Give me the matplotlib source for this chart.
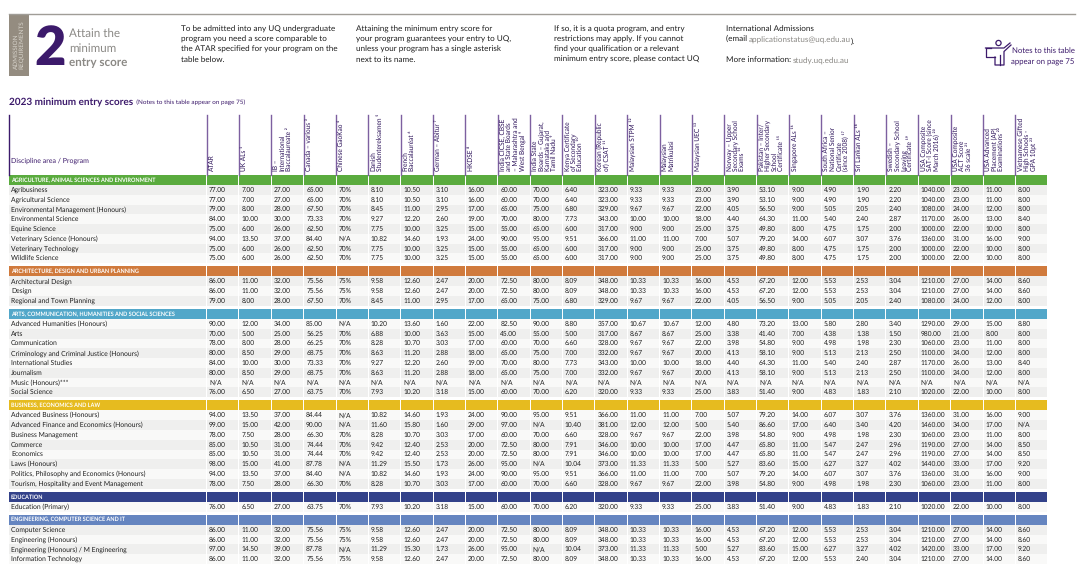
import matplotlib
matplotlib.use('Agg')
import matplotlib.pyplot as plt
from matplotlib.patches import Rectangle, Circle

plt.rcParams['font.family'] = ['Lato', 'DejaVu Sans']
plt.rcParams['text.hinting'] = 'no_hinting'

# Column headers
column_labels = [
    'ATAR', 'UK ALs ¹', 'IB –\nInternational\nBaccalaureate ²', 'Canada – various ³', 'Chinese GaoKao ⁴',
    'Danish\nStudentereksamen ⁵', 'French\nBaccalauréat ⁶', 'German – Abitur ⁷', 'HKDSE ⁸',
    'India CICSE, CBSE\nand State Boards\n– Maharashtra and\nWest Bengal ⁹',
    'India State\nBoards – Gujarat,\nKarnataka and\nTamil Nadu ⁹',
    'Kenya Certificate\nof Secondary\nEducation ¹⁰', 'Korean (Republic\nof) CSAT ¹¹', 'Malaysian STPM ¹²',
    'Malaysian\nMatrikulasi', 'Malaysian UEC ¹³', 'Norway – Upper\nSecondary School\nExams ¹⁴',
    'Pakistan – Inter/\nHigher Secondary\nSchool\nCertificate ¹⁵', 'Singapore ALs ¹⁶',
    'South Africa –\nNational Senior\nCertificate\n(since 2008) ¹⁷', 'Sri Lankan ALs ¹⁸',
    'Swedish –\nSecondary School\nLeaving\nCertificate ¹⁹', 'USA Composite\nSAT-I Score (since\nMarch 2016) ²⁰',
    'USA Composite\nACT Score\n36 scale ²¹', 'USA Advanced\nPlacement (AP)\nExaminations ²²',
    'Vietnamese Gifted\nHigh Schools -\nGPA 10pt ²³',
]

# Sections
section_names = [
    'AGRICULTURE, ANIMAL SCIENCES AND ENVIRONMENT',
    'ARCHITECTURE, DESIGN AND URBAN PLANNING',
    'ARTS, COMMUNICATION, HUMANITIES AND SOCIAL SCIENCES',
    'BUSINESS, ECONOMICS AND LAW',
    'EDUCATION',
    'ENGINEERING, COMPUTER SCIENCE AND IT',
]

programs_agriculture = ['Agribusiness', 'Agricultural Science', 'Environmental Management (Honours)',
                        'Environmental Science', 'Equine Science', 'Veterinary Science (Honours)',
                        'Veterinary Technology', 'Wildlife Science']
scores_agriculture = [
    '77.00 7.00 27.00 65.00 70% 8.10 10.50 3.10 16.00 60.00 70.00 6.40 323.00 9.33 9.33 23.00 3.90 53.10 9.00 4.90 1.90 2.20 1040.00 23.00 11.00 8.00',
    '77.00 7.00 27.00 65.00 70% 8.10 10.50 3.10 16.00 60.00 70.00 6.40 323.00 9.33 9.33 23.00 3.90 53.10 9.00 4.90 1.90 2.20 1040.00 23.00 11.00 8.00',
    '79.00 8.00 28.00 67.50 70% 8.45 11.00 2.95 17.00 65.00 75.00 6.80 329.00 9.67 9.67 22.00 4.05 56.50 9.00 5.05 2.05 2.40 1080.00 24.00 12.00 8.00',
    '84.00 10.00 30.00 73.33 70% 9.27 12.20 2.60 19.00 70.00 80.00 7.73 343.00 10.00 10.00 18.00 4.40 64.30 11.00 5.40 2.40 2.87 1170.00 26.00 13.00 8.40',
    '75.00 6.00 26.00 62.50 70% 7.75 10.00 3.25 15.00 55.00 65.00 6.00 317.00 9.00 9.00 25.00 3.75 49.80 8.00 4.75 1.75 2.00 1000.00 22.00 10.00 8.00',
    '94.00 13.50 37.00 84.40 N/A 10.82 14.60 1.93 24.00 90.00 95.00 9.51 366.00 11.00 11.00 7.00 5.07 79.20 14.00 6.07 3.07 3.76 1360.00 31.00 16.00 9.00',
    '75.00 6.00 26.00 62.50 70% 7.75 10.00 3.25 15.00 55.00 65.00 6.00 317.00 9.00 9.00 25.00 3.75 49.80 8.00 4.75 1.75 2.00 1000.00 22.00 10.00 8.00',
    '75.00 6.00 26.00 62.50 70% 7.75 10.00 3.25 15.00 55.00 65.00 6.00 317.00 9.00 9.00 25.00 3.75 49.80 8.00 4.75 1.75 2.00 1000.00 22.00 10.00 8.00',
]

programs_architecture = ['Architectural Design', 'Design', 'Regional and Town Planning']
scores_architecture = [
    '86.00 11.00 32.00 75.56 75% 9.58 12.60 2.47 20.00 72.50 80.00 8.09 348.00 10.33 10.33 16.00 4.53 67.20 12.00 5.53 2.53 3.04 1210.00 27.00 14.00 8.60',
    '86.00 11.00 32.00 75.56 75% 9.58 12.60 2.47 20.00 72.50 80.00 8.09 348.00 10.33 10.33 16.00 4.53 67.20 12.00 5.53 2.53 3.04 1210.00 27.00 14.00 8.60',
    '79.00 8.00 28.00 67.50 70% 8.45 11.00 2.95 17.00 65.00 75.00 6.80 329.00 9.67 9.67 22.00 4.05 56.50 9.00 5.05 2.05 2.40 1080.00 24.00 12.00 8.00',
]

programs_arts = ['Advanced Humanities (Honours)', 'Arts', 'Communication', 'Criminology and Criminal Justice (Honours)',
                 'International Studies', 'Journalism', 'Music (Honours)***', 'Social Science']
scores_arts = [
    '90.00 12.00 34.00 85.00 N/A 10.20 13.60 1.60 22.00 82.50 90.00 8.80 357.00 10.67 10.67 12.00 4.80 73.20 13.00 5.80 2.80 3.40 1290.00 29.00 15.00 8.80',
    '70.00 5.00 25.00 56.25 70% 6.88 10.00 3.63 15.00 45.00 55.00 5.00 317.00 8.67 8.67 25.00 3.38 41.40 7.00 4.38 1.38 1.50 980.00 21.00 8.00 8.00',
    '78.00 8.00 28.00 66.25 70% 8.28 10.70 3.03 17.00 60.00 70.00 6.60 328.00 9.67 9.67 22.00 3.98 54.80 9.00 4.98 1.98 2.30 1060.00 23.00 11.00 8.00',
    '80.00 8.50 29.00 68.75 70% 8.63 11.20 2.88 18.00 65.00 75.00 7.00 332.00 9.67 9.67 20.00 4.13 58.10 9.00 5.13 2.13 2.50 1100.00 24.00 12.00 8.00',
    '84.00 10.00 30.00 73.33 70% 9.27 12.20 2.60 19.00 70.00 80.00 7.73 343.00 10.00 10.00 18.00 4.40 64.30 11.00 5.40 2.40 2.87 1170.00 26.00 13.00 8.40',
    '80.00 8.50 29.00 68.75 70% 8.63 11.20 2.88 18.00 65.00 75.00 7.00 332.00 9.67 9.67 20.00 4.13 58.10 9.00 5.13 2.13 2.50 1100.00 24.00 12.00 8.00',
    'N/A N/A N/A N/A N/A N/A N/A N/A N/A N/A N/A N/A N/A N/A N/A N/A N/A N/A N/A N/A N/A N/A N/A N/A N/A N/A',
    '76.00 6.50 27.00 63.75 70% 7.93 10.20 3.18 15.00 60.00 70.00 6.20 320.00 9.33 9.33 25.00 3.83 51.40 9.00 4.83 1.83 2.10 1020.00 22.00 10.00 8.00',
]

programs_business = ['Advanced Business (Honours)', 'Advanced Finance and Economics (Honours)', 'Business Management',
                     'Commerce', 'Economics', 'Laws (Honours)', 'Politics, Philosophy and Economics (Honours)',
                     'Tourism, Hospitality and Event Management']
scores_business = [
    '94.00 13.50 37.00 84.44 N/A 10.82 14.60 1.93 24.00 90.00 95.00 9.51 366.00 11.00 11.00 7.00 5.07 79.20 14.00 6.07 3.07 3.76 1360.00 31.00 16.00 9.00',
    '99.00 15.00 42.00 90.00 N/A 11.60 15.80 1.60 29.00 97.00 N/A 10.40 381.00 12.00 12.00 5.00 5.40 86.60 17.00 6.40 3.40 4.20 1460.00 34.00 17.00 N/A',
    '78.00 7.50 28.00 66.30 70% 8.28 10.70 3.03 17.00 60.00 70.00 6.60 328.00 9.67 9.67 22.00 3.98 54.80 9.00 4.98 1.98 2.30 1060.00 23.00 11.00 8.00',
    '85.00 10.50 31.00 74.44 70% 9.42 12.40 2.53 20.00 72.50 80.00 7.91 346.00 10.00 10.00 17.00 4.47 65.80 11.00 5.47 2.47 2.96 1190.00 27.00 14.00 8.50',
    '85.00 10.50 31.00 74.44 70% 9.42 12.40 2.53 20.00 72.50 80.00 7.91 346.00 10.00 10.00 17.00 4.47 65.80 11.00 5.47 2.47 2.96 1190.00 27.00 14.00 8.50',
    '98.00 15.00 41.00 87.78 N/A 11.29 15.50 1.73 26.00 95.00 N/A 10.04 373.00 11.33 11.33 5.00 5.27 83.60 15.00 6.27 3.27 4.02 1440.00 33.00 17.00 9.20',
    '94.00 13.50 37.00 84.40 N/A 10.82 14.60 1.93 24.00 90.00 95.00 9.51 366.00 11.00 11.00 7.00 5.07 79.20 14.00 6.07 3.07 3.76 1360.00 31.00 16.00 9.00',
    '78.00 7.50 28.00 66.30 70% 8.28 10.70 3.03 17.00 60.00 70.00 6.60 328.00 9.67 9.67 22.00 3.98 54.80 9.00 4.98 1.98 2.30 1060.00 23.00 11.00 8.00',
]

programs_education = ['Education (Primary)']
scores_education = [
    '76.00 6.50 27.00 63.75 70% 7.93 10.20 3.18 15.00 60.00 70.00 6.20 320.00 9.33 9.33 25.00 3.83 51.40 9.00 4.83 1.83 2.10 1020.00 22.00 10.00 8.00',
]

programs_engineering = ['Computer Science', 'Engineering (Honours)', 'Engineering (Honours) / M Engineering',
                        'Information Technology']
scores_engineering = [
    '86.00 11.00 32.00 75.56 75% 9.58 12.60 2.47 20.00 72.50 80.00 8.09 348.00 10.33 10.33 16.00 4.53 67.20 12.00 5.53 2.53 3.04 1210.00 27.00 14.00 8.60',
    '86.00 11.00 32.00 75.56 75% 9.58 12.60 2.47 20.00 72.50 80.00 8.09 348.00 10.33 10.33 16.00 4.53 67.20 12.00 5.53 2.53 3.04 1210.00 27.00 14.00 8.60',
    '97.00 14.50 39.00 87.78 N/A 11.29 15.30 1.73 26.00 95.00 N/A 10.04 373.00 11.33 11.33 5.00 5.27 83.60 15.00 6.27 3.27 4.02 1420.00 33.00 17.00 9.20',
    '86.00 11.00 32.00 75.56 75% 9.58 12.60 2.47 20.00 72.50 80.00 8.09 348.00 10.33 10.33 16.00 4.53 67.20 12.00 5.53 2.40 3.04 1210.00 27.00 14.00 8.60',
]

section_programs = [programs_agriculture, programs_architecture, programs_arts,
                    programs_business, programs_education, programs_engineering]
section_scores = [scores_agriculture, scores_architecture, scores_arts,
                  scores_business, scores_education, scores_engineering]
section_colors = ['#5aab3e', '#d07a3c', '#52a7c9', '#e6bb1f', '#33428a', '#6585c0']

# Layout in pixels of the 1080x565 page
first_x = 206.6
col_w = 32.35
table_left = 9
band_h = 10
row_h = 9.78
section_gap = 3.2
purple = '#3c1a6b'
text_color = '#1e1e1e'
gray = '#8b8985'

fig = plt.figure(figsize=(10.8, 5.65), dpi=100)
ax = fig.add_axes([0, 0, 1, 1])
ax.set_xlim(0, 1080)
ax.set_ylim(565, 0)
ax.axis('off')

# Top strip
ax.plot([9, 1075], [13.5, 13.5], color='#a09d97', lw=1)
ax.add_patch(Rectangle((9, 14), 20, 62, color='#948c80', lw=0))
ax.text(19, 45, 'ADMISSION\nREQUIREMENTS', color='#d8d4cc', fontsize=4.6, rotation=90,
        ha='center', va='center', multialignment='left', linespacing=0.95)
ax.text(34, 65, '2', color=purple, fontsize=39, fontweight='heavy', ha='left', va='baseline')
ax.text(69, 34, 'Attain the', color=gray, fontsize=8.4, va='center')
ax.text(69, 48.5, 'minimum', color=gray, fontsize=8.4, va='center')
ax.text(69, 63, 'entry score', color=gray, fontsize=8.4, fontweight='bold', va='center')

paragraphs = [
    (181, ['To be admitted into any UQ undergraduate', 'program you need a score comparable to',
           'the ATAR specified for your program on the', 'table below.']),
    (356, ['Attaining the minimum entry score for', 'your program guarantees your entry to UQ,',
           'unless your program has a single asterisk', 'next to its name.']),
    (554, ['If so, it is a quota program, and entry', 'restrictions may apply. If you cannot',
           'find your qualification or a relevant', 'minimum entry score, please contact UQ']),
]
for x, lines in paragraphs:
    for n, line in enumerate(lines):
        ax.text(x, 29 + n * 10.1, line, color=text_color, fontsize=5.9, va='center')

ax.text(726, 29, 'International Admissions', color=text_color, fontsize=5.9, va='center')
t = ax.text(726, 41, '(email ', color=text_color, fontsize=5.9, va='baseline')
t = ax.annotate('applicationstatus@uq.edu.au', xycoords=t, xy=(1, 0), va='baseline',
                color=gray, fontsize=5.9)
ax.annotate(').', xycoords=t, xy=(1, 0), va='baseline', color=text_color, fontsize=5.9)
t = ax.text(726, 62, 'More information: ', color=text_color, fontsize=5.9, va='baseline')
ax.annotate('study.uq.edu.au', xycoords=t, xy=(1, 0), va='baseline', color=gray, fontsize=5.9)

# Little figure holding a sign
ax.add_patch(Circle((998.5, 43), 2.6, fill=False, ec=purple, lw=0.9))
ax.plot([985.5, 1004, 1010], [48, 48, 43], color=purple, lw=0.9)
ax.plot([1011, 1004, 1004, 995, 995], [45, 51.5, 65, 65, 57], color=purple, lw=0.9)
ax.plot([999.5, 999.5], [55, 65], color=purple, lw=0.9)
ax.plot([991, 985.5, 985.5, 995], [48, 48, 57, 57], color=purple, lw=0.9)
ax.text(1012, 50.5, 'Notes to this table', color=purple, fontsize=5.6, va='center')
ax.text(1011, 62, 'appear on page 75', color=purple, fontsize=5.6, va='center')

# Title
t = ax.text(9, 102, '2023 minimum entry scores', color=purple, fontsize=7.2, fontweight='bold', va='center')
ax.annotate('  (Notes to this table appear on page 75)', xycoords=t, xy=(1, 0.5), va='center',
            color=purple, fontsize=4.6)

# Column headers
header_bottom = 175
ax.plot([table_left, table_left], [115, header_bottom], color=purple, lw=1)
ax.text(table_left + 2, 161, 'Discipline area / Program', color=purple, fontsize=5.0, va='center')
for i, label in enumerate(column_labels):
    x = first_x + i * col_w
    ax.plot([x, x], [115, header_bottom], color='#7d60a0', lw=1)
    ax.text(x + 2, 171, label, rotation=90, color='#2a1058', fontsize=4.7, ha='left', va='bottom',
            multialignment='left', linespacing=1.0)

# Table body
y = header_bottom
for name, programs, scores, color in zip(section_names, section_programs, section_scores, section_colors):
    ax.add_patch(Rectangle((table_left, y), first_x - table_left - 0.5, band_h, color=color, lw=0))
    for i in range(len(column_labels)):
        ax.add_patch(Rectangle((first_x + i * col_w + 0.5, y), col_w - 1, band_h, color=color, lw=0))
    ax.text(table_left + 2, y + band_h / 2, name, color='white', fontsize=4.0, fontweight='bold', va='center')
    y += band_h
    for r, (program, row) in enumerate(zip(programs, scores)):
        # zebra striping restarts per section
        if name in section_names[:2] or name == section_names[5]:
            shade = '#efefee' if r % 2 == 0 else '#f9f9f8'
        else:
            shade = '#f9f9f8' if r % 2 == 0 else '#efefee'
        ax.add_patch(Rectangle((table_left, y), first_x - table_left - 0.5, row_h, color=shade, lw=0))
        ax.text(table_left + 2, y + row_h / 2, program, color=text_color, fontsize=4.85, va='center')
        for i, value in enumerate(row.split()):
            x = first_x + i * col_w
            ax.add_patch(Rectangle((x + 0.5, y), col_w - 1, row_h, color=shade, lw=0))
            ax.text(x + 2.5, y + row_h / 2, value, color=text_color, fontsize=4.75, va='center')
        y += row_h
    y += section_gap

fig.savefig('out.png', dpi=100)
